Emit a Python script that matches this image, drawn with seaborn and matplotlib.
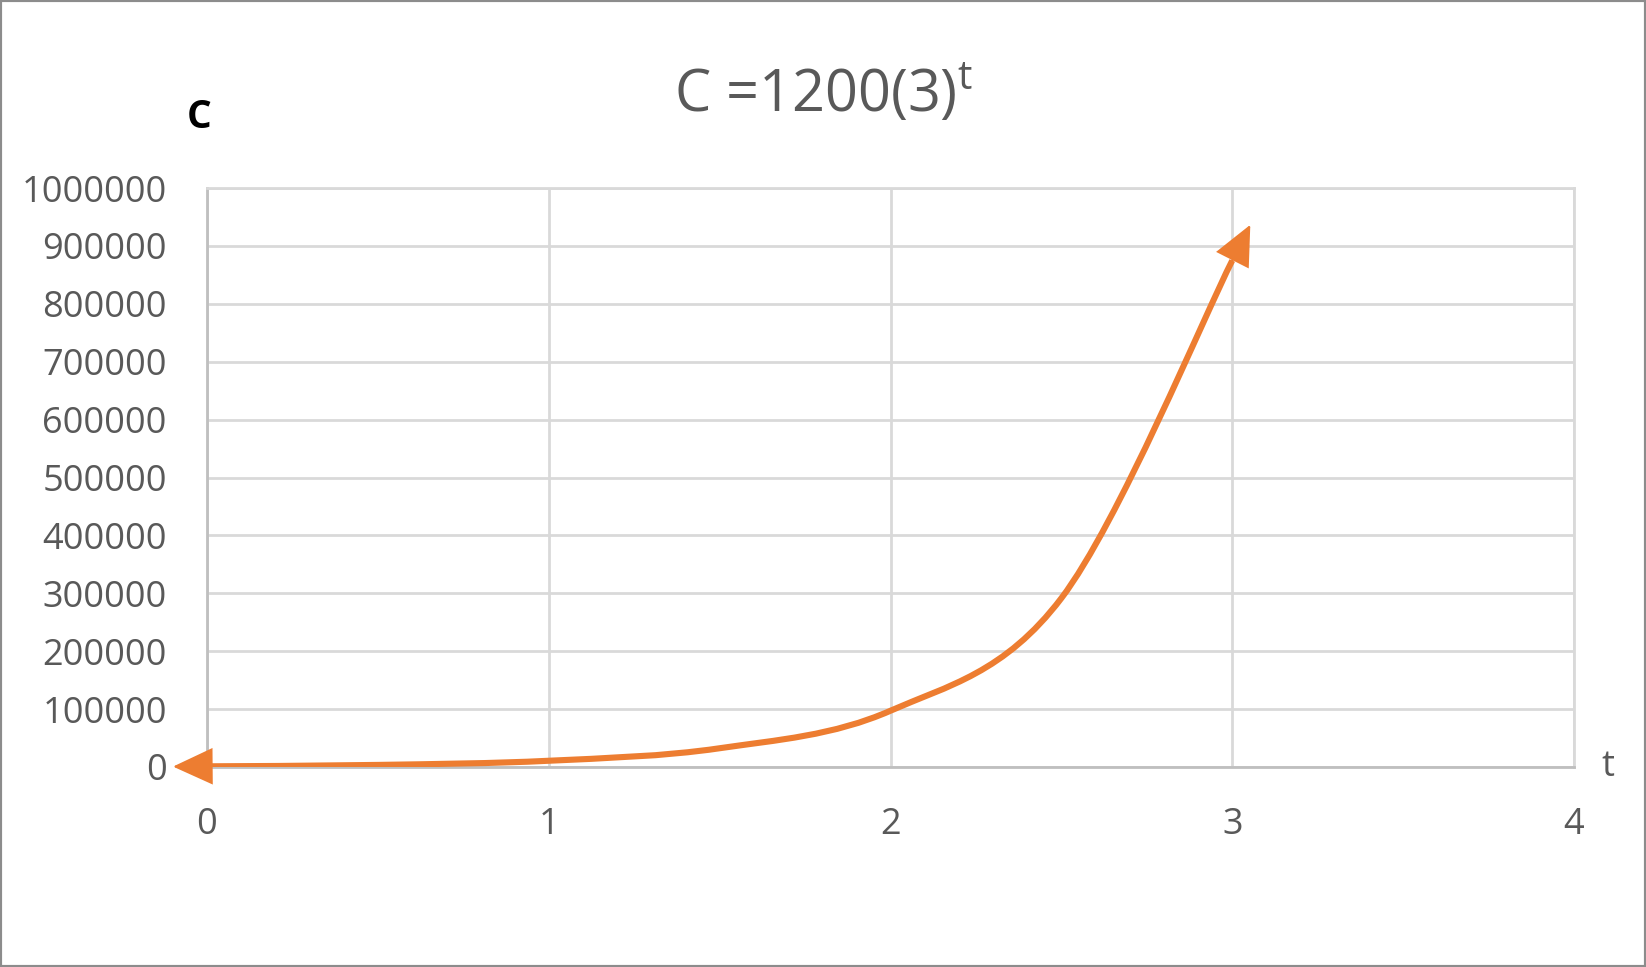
import numpy as np
import matplotlib.pyplot as plt
import seaborn as sns
from matplotlib.path import Path
from matplotlib.patches import PathPatch, Rectangle

t_values = [0, 0.5, 1, 1.5, 2, 2.5, 3]
c_values = [1200, 3600, 10800, 32400, 97200, 291600, 874800]
x_ticks = [0, 1, 2, 3, 4]
y_ticks = [0, 100000, 200000, 300000, 400000, 500000, 600000, 700000, 800000, 900000, 1000000]

orange = '#ED7D31'
grey_text = '#595959'

sns.set_theme(style='whitegrid')
plt.rcParams['font.family'] = ['Open Sans', 'DejaVu Sans']
plt.rcParams['mathtext.fontset'] = 'custom'
plt.rcParams['mathtext.rm'] = 'Open Sans'
plt.rcParams['mathtext.it'] = 'Open Sans'

W, H = 1646, 967
fig = plt.figure(figsize=(W / 100, H / 100), dpi=100)
fig.patch.set_facecolor('white')
ax = fig.add_axes([207 / W, 1 - 767 / H, (1574 - 207) / W, (767 - 188) / H])
ax.set_facecolor('white')
ax.set_xlim(x_ticks[0], x_ticks[-1])
ax.set_ylim(y_ticks[0], y_ticks[-1])
ax.set_xticks(x_ticks)
ax.set_yticks(y_ticks)
ax.set_xticklabels([str(v) for v in x_ticks])
ax.set_yticklabels([str(v) for v in y_ticks])
ax.grid(True, color='#D9D9D9', lw=2)
ax.set_axisbelow(True)
for side, sp in ax.spines.items():
    sp.set_visible(True)
    sp.set_linewidth(2)
    sp.set_color('#BFBFBF' if side in ('left', 'bottom') else '#D9D9D9')
ax.tick_params(length=0, pad=29, labelsize=26, labelcolor=grey_text)

# smoothed line (Excel style bezier through the points)
pts = np.column_stack([t_values, c_values]).astype(float)
n = len(pts)
verts = [pts[0]]
codes = [Path.MOVETO]
for i in range(n - 1):
    p_prev = pts[i - 1] if i > 0 else pts[i]
    p_next = pts[i + 2] if i + 2 < n else pts[i + 1]
    c1 = pts[i] + (pts[i + 1] - p_prev) / 6
    c2 = pts[i + 1] - (p_next - pts[i]) / 6
    verts += [c1, c2, pts[i + 1]]
    codes += [Path.CURVE4] * 3
ax.add_patch(PathPatch(Path(verts, codes), facecolor='none', edgecolor=orange,
                       lw=4.4, capstyle='butt', zorder=3))

# arrow heads at both ends, along the curve's end tangents
def arrow_head(p_end, p_ctrl, length_px):
    a = ax.transData.transform(p_end)
    b = ax.transData.transform(p_ctrl)
    d = (a - b) / np.hypot(*(a - b))
    off = d * length_px * 72 / 100
    ax.annotate('', xy=p_end, xycoords='data', xytext=(off[0], off[1]),
                textcoords='offset points', annotation_clip=False,
                arrowprops=dict(arrowstyle='<|-,head_length=1.3,head_width=0.6',
                                color=orange, lw=1.5, shrinkA=0, shrinkB=0,
                                joinstyle='miter', mutation_scale=20), zorder=4)

arrow_head(verts[-1], verts[-2], 40)
arrow_head(verts[0], verts[1], 34)

fig.text(0.5, 1 - 94 / H, 'C =1200(3)$^{\\mathrm{t}}$', ha='center', va='center',
         fontsize=41.5, color=grey_text)
fig.text(199 / W, 1 - 118 / H, 'C', ha='center', va='center', fontsize=28,
         fontweight='bold', color='black')
fig.text(1608 / W, 1 - 767 / H, 't', ha='center', va='center', fontsize=26,
         color=grey_text)

fig.patches.append(Rectangle((0, 0), 1, 1, transform=fig.transFigure, fill=False,
                             edgecolor='#8C8C8C', lw=3))

fig.savefig('out.png', dpi=100)
